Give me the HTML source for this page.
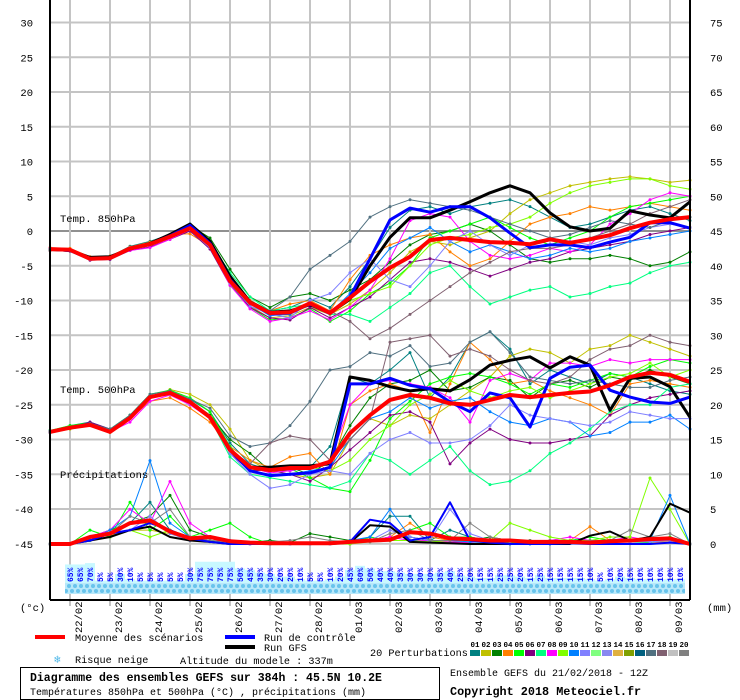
<!DOCTYPE html>
<html><head><meta charset="utf-8"><style>
html,body{margin:0;padding:0;background:#fff;}
svg{display:block;font-family:"Liberation Mono",monospace;}
</style></head><body>
<svg id="chart" width="740" height="700" viewBox="0 0 740 700" xmlns="http://www.w3.org/2000/svg">
<defs>
<pattern id="flk" width="6" height="11" patternUnits="userSpaceOnUse">
<rect width="6" height="11" fill="#b8e8fa"/>
<circle cx="3" cy="3" r="2" fill="#68c4ec"/>
<circle cx="0" cy="8" r="2" fill="#68c4ec"/>
<circle cx="6" cy="8" r="2" fill="#68c4ec"/>
</pattern>
</defs>
<g id="grid"></g>
<g id="snow"></g>
<g id="series"></g>
<g id="axes"></g>
<text x="60" y="222" font-size="10.5">Temp. 850hPa</text>
<text x="60" y="393" font-size="10.5">Temp. 500hPa</text>
<text x="60" y="478" font-size="10.5">Précipitations</text>
<text x="20" y="611" font-size="10.5">(°c)</text>
<text x="707" y="611" font-size="10.5">(mm)</text>
<g>
<rect x="35" y="635" width="30" height="4" fill="#ff0000"/>
<text x="75" y="641" font-size="10.2">Moyenne des scénarios</text>
<rect x="225" y="635" width="30" height="4" fill="#0000ff"/>
<text x="264" y="641" font-size="10.2">Run de contrôle</text>
<rect x="225" y="645" width="30" height="4" fill="#000000"/>
<text x="264" y="651" font-size="10.2">Run GFS</text>
<text x="54" y="663" font-size="11" fill="#50b8e8">❄</text>
<text x="75" y="663" font-size="10.2">Risque neige</text>
<text x="180" y="664" font-size="10.2">Altitude du modele : 337m</text>
<text x="370" y="656" font-size="10.2">20 Perturbations</text>
<g id="pertLegend"></g>
</g>
<rect x="20.5" y="667.5" width="419" height="32" fill="none" stroke="#000"/>
<text x="30" y="681" font-size="11.5" font-weight="bold">Diagramme des ensembles GEFS sur 384h : 45.5N 10.2E</text>
<text x="30" y="695" font-size="10">Températures 850hPa et 500hPa (°C) , précipitations (mm)</text>
<text x="450" y="676" font-size="10">Ensemble GEFS du 21/02/2018 - 12Z</text>
<text x="450" y="695" font-size="11.8" font-weight="bold">Copyright 2018 Meteociel.fr</text>
</svg>
<script>
const dates = ["22/02","23/02","24/02","25/02","26/02","27/02","28/02","01/03","02/03","03/03","04/03","05/03","06/03","07/03","08/03","09/03"];
const leftTicks = [30,25,20,15,10,5,0,-5,-10,-15,-20,-25,-30,-35,-40,-45];
const rightTicks = [75,70,65,60,55,50,45,40,35,30,25,20,15,10,5,0];
const snowPct = [65,65,70,5,5,30,10,5,5,5,5,5,30,75,75,75,75,50,45,35,30,20,20,10,5,5,10,20,45,60,50,40,40,35,30,30,30,35,40,25,20,15,15,25,25,20,15,25,15,15,15,15,10,5,10,20,15,10,10,10,10,10];
const pertColors = ["#008080","#c0c000","#008000","#ff8000","#00ff00","#800080","#00ff80","#ff00ff","#80ff00","#0080ff","#8080ff","#80ff80","#8888f0","#e0b040","#80a000","#006080","#507080","#806070","#c0c0c0","#808080"];

const t850Mean = [-2.6,-2.7,-4.0,-3.9,-2.5,-1.9,-0.8,0.4,-2.0,-7.2,-10.3,-11.8,-11.7,-10.4,-11.8,-9.6,-7.3,-5.3,-3.7,-1.3,-1.0,-1.3,-1.6,-1.7,-1.9,-1.2,-1.7,-1.2,-0.6,0.4,1.2,1.7,2.0];
const t850Gfs = [-2.6,-2.8,-3.8,-3.7,-2.6,-1.8,-0.5,1.0,-1.5,-6.5,-10.2,-11.7,-11.5,-10.6,-11.8,-9.8,-5.0,-0.9,1.9,1.9,3.0,4.2,5.5,6.5,5.5,2.6,0.6,0.0,0.4,2.9,2.3,1.9,4.2];
const t850Ctl = [-2.6,-2.8,-4.0,-3.9,-2.5,-1.9,-0.7,0.8,-1.8,-7.0,-10.3,-11.9,-11.8,-10.5,-11.9,-9.5,-4.0,1.6,3.3,2.7,3.5,3.5,1.9,-0.3,-2.4,-2.0,-2.0,-2.4,-1.6,-0.9,1.2,1.2,0.4];
const t850P01 = [-2.5,-2.6,-3.8,-3.7,-2.2,-1.5,-0.5,1.0,-1.5,-6.5,-10.0,-11.5,-11.0,-9.8,-11.0,-8.0,-4.0,0.5,3.0,3.5,2.5,3.5,4.0,4.5,3.5,2.0,0.5,1.0,2.0,3.0,3.5,2.5,1.5];
const t850P02 = [-2.8,-2.9,-4.1,-4.0,-2.6,-2.0,-0.8,0.2,-2.4,-7.5,-10.8,-12.5,-12.2,-11.0,-12.0,-10.5,-8.5,-6.0,-3.0,-1.5,-2.0,-1.0,0.0,2.5,4.5,5.5,6.5,7.0,7.5,7.8,7.5,7.0,7.3];
const t850P03 = [-2.6,-2.8,-3.9,-3.8,-2.4,-1.8,-0.6,0.8,-1.0,-5.5,-9.5,-11.0,-9.5,-9.0,-10.0,-8.5,-7.0,-4.5,-2.0,-0.5,0.0,1.0,0.0,-2.0,-4.0,-4.5,-4.0,-4.0,-3.5,-4.0,-5.0,-4.5,-3.0];
const t850P04 = [-2.4,-2.5,-3.7,-3.6,-2.3,-1.6,-0.5,-0.4,-2.2,-7.0,-10.0,-11.5,-10.5,-10.0,-11.5,-7.0,-3.5,-2.0,-1.0,-0.5,-3.0,-5.0,-4.0,-1.5,1.0,2.0,2.5,3.5,3.0,3.5,4.0,3.5,3.0];
const t850P05 = [-2.7,-2.8,-4.0,-4.0,-2.6,-2.0,-0.7,0.5,-1.8,-7.6,-11.0,-12.8,-12.5,-11.2,-13.0,-11.5,-9.0,-7.5,-5.0,-1.0,0.0,1.0,2.0,0.5,-1.0,-2.0,-1.0,0.0,2.0,3.5,4.0,4.5,5.0];
const t850P06 = [-2.8,-2.9,-4.2,-4.1,-2.8,-2.3,-1.2,0.0,-2.6,-7.8,-11.0,-12.5,-12.8,-11.0,-12.5,-11.0,-9.5,-7.0,-4.5,-4.0,-4.5,-5.5,-6.5,-5.5,-4.5,-4.0,-3.0,-2.5,-2.0,-1.5,-0.5,0.0,0.5];
const t850P07 = [-2.6,-2.7,-3.9,-3.8,-2.5,-1.8,-0.7,0.7,-1.6,-6.0,-9.5,-11.5,-11.0,-10.5,-12.0,-12.0,-13.0,-11.0,-9.0,-6.0,-5.0,-8.0,-10.5,-9.5,-8.5,-8.0,-9.5,-9.0,-8.0,-7.5,-6.0,-5.0,-4.5];
const t850P08 = [-2.5,-2.7,-4.0,-3.9,-2.8,-2.4,-1.2,0.2,-2.3,-7.8,-11.2,-13.0,-12.5,-11.5,-12.8,-11.0,-8.5,-4.0,1.5,2.5,2.0,-1.5,-3.5,-4.0,-3.5,-2.5,-3.0,-2.0,1.0,2.5,4.5,5.5,5.0];
const t850P09 = [-2.7,-2.8,-4.0,-3.9,-2.5,-1.9,-0.9,0.5,-2.0,-7.3,-10.5,-12.0,-11.8,-10.6,-12.0,-10.0,-9.0,-8.0,-5.0,-2.0,-1.0,-0.5,0.5,1.0,2.0,4.0,5.5,6.5,7.0,7.5,7.5,6.5,6.0];
const t850P10 = [-2.6,-2.7,-3.9,-3.8,-2.5,-1.9,-0.8,1.0,-1.5,-6.8,-10.5,-12.2,-12.0,-10.5,-11.8,-9.0,-6.0,-2.5,-1.0,0.5,-1.5,-3.0,-2.0,-3.0,-4.0,-3.5,-2.5,-3.0,-2.5,-1.5,-1.0,-0.5,0.0];
const t850P11 = [-2.6,-2.8,-4.1,-4.0,-2.4,-1.8,-0.8,0.2,-2.4,-7.5,-10.8,-12.0,-12.5,-10.0,-9.0,-6.0,-4.0,-7.0,-8.0,-5.0,-1.5,0.0,-2.0,-3.5,-2.0,-1.0,-1.5,-2.0,-1.0,-0.5,0.5,1.0,0.5];
const t850P17 = [-2.7,-2.8,-4.0,-3.9,-2.6,-2.0,-0.9,0.4,-1.9,-7.2,-10.4,-11.5,-9.5,-5.5,-3.5,-1.5,2.0,3.5,4.5,4.0,3.5,3.0,2.0,1.0,0.0,-1.0,-0.5,0.5,1.5,1.0,0.5,1.5,2.0];
const t850P18 = [-2.6,-2.7,-4.0,-3.9,-2.5,-1.9,-0.8,0.3,-2.1,-7.3,-10.5,-12.0,-11.8,-10.5,-11.5,-13.0,-15.5,-14.0,-12.0,-10.0,-8.0,-6.0,-4.5,-3.0,-2.5,-2.5,-2.0,-1.0,0.0,1.0,2.5,3.5,4.5];

const t500Mean = [-28.9,-28.3,-27.9,-28.9,-26.9,-23.9,-23.3,-24.6,-26.8,-31.5,-34.0,-34.4,-34.1,-34.1,-33.2,-29.1,-26.5,-24.3,-23.6,-24.0,-24.8,-25.0,-24.3,-23.6,-23.9,-23.6,-23.3,-23.1,-22.2,-21.0,-20.4,-20.7,-21.7];
const t500Gfs = [-28.9,-28.3,-27.9,-28.9,-26.9,-23.9,-23.3,-24.6,-26.8,-31.5,-34.0,-34.0,-33.8,-33.8,-33.5,-21.0,-21.5,-22.4,-23.0,-22.7,-23.0,-21.4,-19.3,-18.6,-18.1,-19.7,-18.1,-19.3,-25.8,-21.2,-21.0,-22.4,-26.8];
const t500Ctl = [-28.9,-28.3,-27.9,-28.9,-26.9,-23.9,-23.3,-24.6,-26.8,-31.5,-34.5,-35.2,-35.0,-34.8,-34.0,-22.0,-22.0,-21.2,-22.2,-22.7,-24.6,-26.0,-23.3,-24.0,-28.2,-21.2,-19.6,-19.3,-22.9,-23.9,-24.6,-24.8,-23.9];
const t500P01 = [-28.8,-28.0,-27.5,-28.5,-26.5,-23.5,-23.0,-24.2,-26.0,-30.5,-33.5,-34.5,-34.5,-34.0,-31.0,-21.0,-22.0,-20.0,-17.5,-24.0,-21.0,-16.0,-14.5,-17.0,-22.0,-20.0,-21.0,-22.0,-20.5,-21.0,-22.0,-23.0,-23.5];
const t500P02 = [-29.0,-28.5,-28.0,-29.0,-27.0,-24.0,-22.8,-23.5,-25.0,-28.5,-33.0,-34.5,-35.0,-35.5,-35.0,-30.0,-27.0,-28.0,-26.5,-27.0,-25.0,-23.0,-21.0,-18.0,-17.0,-17.5,-19.0,-17.0,-16.5,-15.0,-16.0,-17.0,-18.0];
const t500P03 = [-28.8,-28.2,-27.8,-28.8,-26.8,-23.8,-23.2,-24.4,-26.5,-30.0,-32.0,-34.5,-34.0,-35.0,-33.0,-28.0,-24.0,-22.0,-21.5,-20.0,-23.0,-22.5,-21.0,-21.5,-24.0,-22.0,-21.5,-22.5,-21.0,-21.5,-20.0,-21.0,-22.0];
const t500P04 = [-28.9,-28.3,-27.9,-28.9,-27.0,-24.5,-24.0,-25.5,-27.5,-31.0,-33.0,-34.0,-32.5,-32.0,-35.0,-25.0,-23.0,-22.0,-23.0,-29.0,-22.0,-16.0,-18.5,-22.0,-21.5,-23.0,-24.0,-25.0,-26.5,-22.0,-21.5,-22.0,-22.5];
const t500P05 = [-28.7,-28.0,-27.6,-28.5,-26.5,-23.5,-22.9,-24.0,-26.0,-31.0,-34.5,-34.0,-34.2,-35.5,-37.0,-37.5,-33.0,-27.0,-24.5,-22.0,-21.0,-20.5,-21.0,-22.0,-23.5,-22.0,-22.5,-21.5,-20.5,-21.0,-19.5,-18.5,-19.0];
const t500P06 = [-29.0,-28.4,-27.5,-28.5,-26.8,-24.0,-23.5,-24.6,-27.0,-32.0,-34.5,-34.4,-35.0,-36.0,-34.0,-31.5,-29.0,-26.5,-26.0,-27.5,-33.5,-30.5,-28.5,-30.0,-30.5,-30.5,-30.0,-29.5,-26.5,-25.0,-24.0,-23.5,-23.0];
const t500P07 = [-28.7,-28.2,-27.9,-28.8,-26.9,-24.0,-23.4,-24.6,-26.9,-32.5,-35.0,-35.5,-36.0,-36.5,-37.0,-36.0,-32.0,-33.0,-35.0,-33.0,-31.0,-34.5,-36.5,-36.0,-34.5,-32.0,-30.5,-28.5,-26.0,-25.0,-25.0,-22.5,-22.0];
const t500P08 = [-28.9,-28.3,-27.9,-28.9,-27.5,-24.5,-23.6,-25.0,-27.0,-31.5,-34.0,-34.8,-34.5,-34.0,-33.0,-25.0,-22.0,-21.5,-22.0,-22.5,-24.0,-27.5,-21.5,-20.5,-21.5,-19.0,-19.0,-19.5,-18.5,-19.0,-18.5,-18.5,-18.5];
const t500P09 = [-28.8,-28.2,-27.8,-28.7,-26.8,-23.8,-23.3,-24.5,-26.7,-31.5,-34.0,-34.3,-34.0,-34.0,-34.5,-33.0,-30.0,-28.0,-25.0,-23.5,-21.5,-23.0,-24.0,-23.0,-22.5,-24.0,-23.0,-22.0,-21.0,-20.5,-19.0,-21.0,-20.0];
const t500P10 = [-28.9,-28.3,-27.9,-28.9,-26.9,-23.9,-23.3,-24.6,-26.8,-31.5,-34.5,-35.0,-35.0,-34.5,-34.0,-30.0,-27.0,-26.0,-24.0,-25.5,-24.5,-24.0,-26.0,-27.5,-28.0,-27.0,-27.5,-29.5,-29.0,-27.5,-27.5,-26.5,-28.5];
const t500P11 = [-28.8,-28.3,-28.0,-28.9,-27.0,-24.0,-23.5,-24.8,-27.0,-32.0,-35.0,-37.0,-36.5,-35.0,-34.5,-35.0,-32.0,-30.0,-29.0,-30.5,-30.5,-30.0,-28.0,-25.0,-26.5,-27.0,-27.5,-28.0,-27.5,-26.0,-26.5,-27.0,-27.0];
const t500P17 = [-28.8,-28.2,-27.7,-28.5,-26.5,-23.5,-23.0,-24.2,-25.5,-29.5,-31.0,-30.5,-28.0,-24.5,-20.0,-19.5,-17.5,-18.0,-16.5,-19.5,-19.0,-16.0,-14.5,-17.5,-21.0,-21.5,-22.0,-21.5,-22.0,-22.5,-22.5,-21.5,-21.0];
const t500P18 = [-28.9,-28.3,-27.9,-28.9,-26.9,-23.9,-23.3,-24.6,-26.8,-31.5,-33.5,-30.5,-29.5,-30.0,-33.0,-30.0,-27.0,-16.0,-15.5,-15.0,-18.0,-17.0,-18.0,-20.0,-21.5,-22.0,-21.0,-18.5,-17.0,-16.5,-15.0,-16.0,-16.5];

const prMean = [0,0,1,1.5,3,3.4,1.8,0.8,1,0.4,0.2,0.1,0.1,0.1,0.1,0.3,0.5,0.6,1.7,1.5,0.8,0.7,0.5,0.5,0.3,0.3,0.3,0.2,0.4,0.5,0.7,0.8,0];
const prGfs = [0,0,0.5,1,2,2.5,1,0.5,0.3,0,0,0,0,0,0,0.2,2.7,2.5,0.3,0.2,0.1,0,0,0,0,0,0,1.2,1.8,0.5,1.0,5.8,4.5];
const prCtl = [0,0,0.5,1.5,2,3,2,0.8,0.3,0,0,0,0,0,0,0.3,3.5,3,0.5,1,6,0.5,0.2,0,0,0,0.1,0,0,0,0,0.2,0];
const prP10 = [0,0,0.5,2,4,12,3,1,0.5,0.2,0,0,0,0,0,0.5,1,5,1,0.5,0.5,0.3,0.2,0,0,0,0.2,0.3,0.5,0.3,0.5,7,0];
const prP08 = [0,0,1,2,5,3,9,3,1,0.5,0,0,0,0,0,0,0.5,1,0.5,0.5,0.3,0.2,0.5,0.3,0.2,0.5,1,0.5,0.5,1,0.5,0.5,0];
const prP05 = [0,0,2,1,6,2,4,1,2,3,1,0,0,0,0,0,1,0.5,2,3,1,1,0.5,0.2,0.2,0.3,0.5,1,0.5,0.3,0.2,1,0];
const prP03 = [0,0,1,2,3,4,7,2,1,0.5,0.2,0.5,0.2,1.5,1,0.5,0.5,1,1,0.5,0.5,0.5,1,0.5,0.5,0.2,0.2,0.3,0.3,0.5,0.5,0.5,0];
const prP09 = [0,0,0.5,1,2,1,2,1,0.5,0.2,0,0,0,0,0,0,0.5,0.5,0.5,0.3,0.5,0.5,0.5,3,2,1,0.5,0.5,1,1,9.5,5,0];
const prP20 = [0,0,1,1.5,4,3,5,1,0.5,0.3,0.2,0.3,0.5,1,0.5,0.3,0.3,1.5,2,0.5,0.5,3,1,0.5,0.5,0.5,0.3,0.5,0.5,2,1,1.5,0];
const prP01 = [0,0,0.5,1,3,6,2,1,0.5,0.3,0,0,0,0,0,0.2,1,4,4,0.5,2,1,0.5,0.3,0.3,0.2,0.2,0.3,0.5,0.3,0.5,0.5,0];
const prP04 = [0,0,0.5,1,3,3,2,1,0.5,0.3,0,0,0,0,0,0.2,0.5,1,3,1,0.5,0.3,0.2,0.2,0.3,0.5,0.5,2.5,0.5,0.3,0.3,0.3,0];
const prP02 = [0,0,0.5,1,2,2,1.5,0.5,0.3,0.2,0,0,0,0,0,0,0.3,0.5,0.5,0.3,0.3,0.5,0.5,0.3,0.5,0.5,0.5,0.3,0.3,0.5,1,0.5,0];
const prP11 = [0,0,1,1.5,2,4,1.5,0.5,0.3,0.2,0,0,0,0,0,0.2,0.5,2,1,0.5,5,1.5,0.5,0.3,0.2,0.2,0.3,0.3,0.3,0.3,0.3,0.5,0];

const NS = "http://www.w3.org/2000/svg";
const X0 = 50, STEP = 20;
function xOf(i){ return X0 + i*STEP; }
function yT(v){ return 231 - v*6.95; }
function yP(mm){ return 544 - mm*6.95; }
function mk(tag, attrs, parent){ const e=document.createElementNS(NS,tag); for(const k in attrs) e.setAttribute(k,attrs[k]); parent.appendChild(e); return e; }

const grid = document.getElementById('grid');
leftTicks.forEach((v,k)=>{
  const y = yT(v);
  const ln = mk('line',{x1:50,x2:690,y1:y,y2:y,stroke:v===0?'#909090':'#c4c4c4','stroke-width':2},grid);
  
  
  const t = mk('text',{x:33,y:y+4,'font-size':10.5,'text-anchor':'end'},grid);
  t.textContent = String(v);
  
  
  const r = mk('text',{x:710,y:y+4,'font-size':10.5},grid);
  r.textContent = String(rightTicks[k]);
  
  
});
dates.forEach((d,k)=>{
  const x = 70 + k*40;
  const ln = mk('line',{x1:x,x2:x,y1:0,y2:606,stroke:'#c4c4c4','stroke-width':2},grid);
  
  
  const t = mk('text',{x:0,y:0,'font-size':10.5,transform:`translate(${x+12},633) rotate(-90)`},grid);
  t.textContent = d;
  
  
});

const snow = document.getElementById('snow');
snowPct.forEach((p,k)=>{
  const x = 70 + k*10;
  const h = p*0.27 + 1;
  const b = mk('rect',{x:x-5,y:583-h,width:10,height:h,fill:'#c8f8ff'},snow);
  
  
});
const fl = mk('rect',{x:65,y:583,width:620,height:11,fill:'url(#flk)'},snow);


snowPct.forEach((p,k)=>{
  const x = 70 + k*10;
  const t = mk('text',{x:0,y:0,'font-size':8,'font-weight':'bold',fill:'#0000ff',transform:`translate(${x+3},582) rotate(-90)`},snow);
  t.textContent = p + '%';
  
  
});

const series = document.getElementById('series');
function drawLine(vals, yf, color, width, name, dots){
  const pts = vals.map((v,i)=>xOf(i)+','+yf(v).toFixed(1)).join(' ');
  const pl = mk('polyline',{points:pts,fill:'none',stroke:color,'stroke-width':width,'stroke-linejoin':'round'},series);
  
  
  if(dots){
    vals.forEach((v,i)=>{
      const c = mk('circle',{cx:xOf(i),cy:yf(v),r:1.5,fill:color},series);
      
      
    });
  }
}
const t850Members = [[t850P01,0],[t850P02,1],[t850P03,2],[t850P04,3],[t850P05,4],[t850P06,5],[t850P07,6],[t850P08,7],[t850P09,8],[t850P10,9],[t850P11,10],[t850P17,16],[t850P18,17]];
const t500Members = [[t500P01,0],[t500P02,1],[t500P03,2],[t500P04,3],[t500P05,4],[t500P06,5],[t500P07,6],[t500P08,7],[t500P09,8],[t500P10,9],[t500P11,10],[t500P17,16],[t500P18,17]];
const prMembers = [[prP01,0],[prP02,1],[prP03,2],[prP04,3],[prP05,4],[prP08,7],[prP09,8],[prP10,9],[prP11,10],[prP20,19]];
t850Members.forEach(([a,c])=>drawLine(a,yT,pertColors[c],1,'t850-member',true));
t500Members.forEach(([a,c])=>drawLine(a,yT,pertColors[c],1,'t500-member',true));
prMembers.forEach(([a,c])=>drawLine(a,yP,pertColors[c],1,'precip-member',true));
drawLine(t850Gfs,yT,'#000000',3,'t850-gfs',false);
drawLine(t850Ctl,yT,'#0000ff',3,'t850-control',false);
drawLine(t850Mean,yT,'#ff0000',4,'t850-mean',false);
drawLine(t500Gfs,yT,'#000000',3,'t500-gfs',false);
drawLine(t500Ctl,yT,'#0000ff',3,'t500-control',false);
drawLine(t500Mean,yT,'#ff0000',4,'t500-mean',false);
drawLine(prGfs,yP,'#000000',2,'precip-gfs',false);
drawLine(prCtl,yP,'#0000ff',2,'precip-control',false);
drawLine(prMean,yP,'#ff0000',4,'precip-mean',false);

const axes = document.getElementById('axes');
const a1 = mk('line',{x1:50,x2:50,y1:0,y2:600,stroke:'#000','stroke-width':2},axes);
 
const a2 = mk('line',{x1:690,x2:690,y1:0,y2:600,stroke:'#000','stroke-width':2},axes);
 
const a3 = mk('line',{x1:50,x2:690,y1:600,y2:600,stroke:'#000','stroke-width':2},axes);
 

const pl = document.getElementById('pertLegend');
pertColors.forEach((c,k)=>{
  const x = 470 + k*11;
  const r = mk('rect',{x:x,y:650,width:10,height:6,fill:c},pl);
  
  
  const t = mk('text',{x:x+5,y:647,'font-size':7.5,'font-weight':'bold','text-anchor':'middle'},pl);
  t.textContent = String(k+1).padStart(2,'0');
  
  
});
</script>
</body></html>
